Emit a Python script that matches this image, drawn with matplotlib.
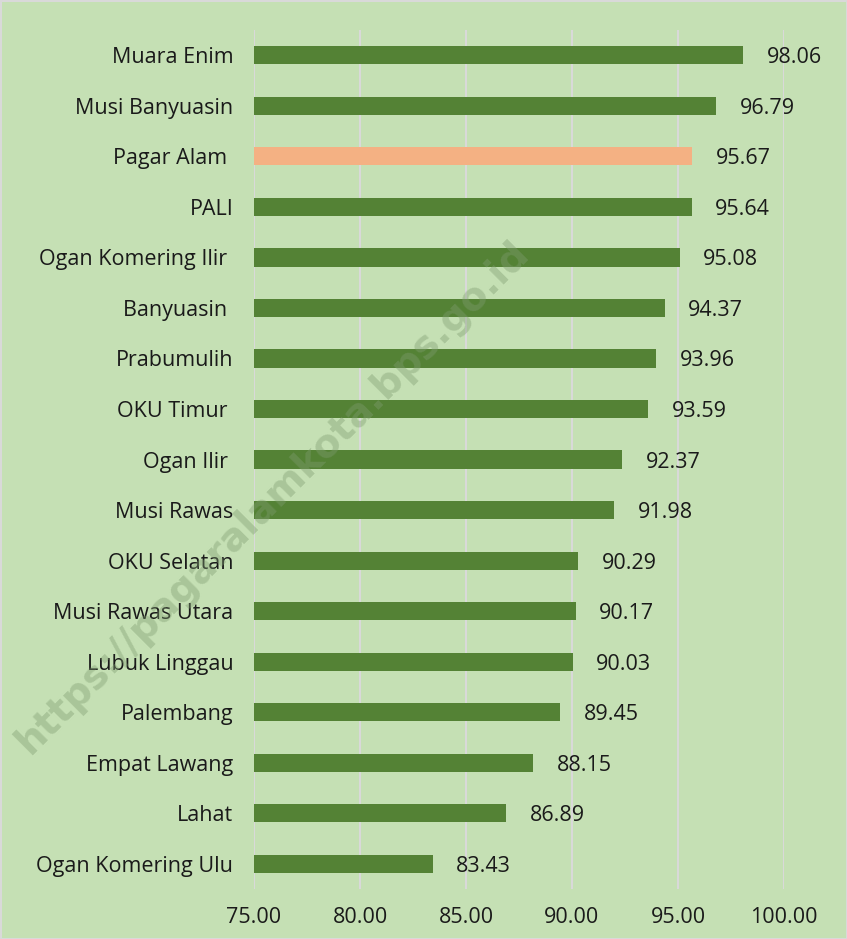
import matplotlib.pyplot as plt

regions = ["Muara Enim", "Musi Banyuasin", "Pagar Alam ", "PALI", "Ogan Komering Ilir ",
           "Banyuasin ", "Prabumulih", "OKU Timur ", "Ogan Ilir ", "Musi Rawas",
           "OKU Selatan", "Musi Rawas Utara", "Lubuk Linggau", "Palembang",
           "Empat Lawang", "Lahat", "Ogan Komering Ulu"]
values = [98.06, 96.79, 95.67, 95.64, 95.08, 94.37, 93.96, 93.59, 92.37, 91.98,
          90.29, 90.17, 90.03, 89.45, 88.15, 86.89, 83.43]
ticks = [75, 80, 85, 90, 95, 100]

bg = "#c5e0b4"
green = "#548235"
salmon = "#f4b183"

plt.rcParams["font.family"] = ["Open Sans", "DejaVu Sans"]

fig = plt.figure(figsize=(8.47, 9.39), dpi=100, facecolor=bg,
                 edgecolor="#d9d9d9", linewidth=2)
ax = fig.add_axes([0.2999, 0.0532, 0.6257, 0.9148])
ax.set_facecolor(bg)

pos = list(range(len(regions)))
colors = [salmon if r.strip() == "Pagar Alam" else green for r in regions]
base = 75
ax.barh(pos, [v - base for v in values], left=base, height=0.36, color=colors, zorder=3)

for p, v in zip(pos, values):
    ax.annotate(f"{v:.2f}", (v, p), xytext=(17, 0), textcoords="offset points",
                ha="left", va="center_baseline", fontsize=15.5, color="#1a1a1a")

ax.set_xlim(75, 100)
ax.set_ylim(len(regions) - 0.5, -0.5)
ax.set_xticks(ticks)
ax.set_xticklabels([f"{t:.2f}" for t in ticks], fontsize=15.5, color="#1a1a1a")
ax.set_yticks(pos)
ax.set_yticklabels(regions, fontsize=15.5, color="#1a1a1a")
ax.tick_params(length=0)
ax.tick_params(axis="y", pad=15)
ax.tick_params(axis="x", pad=13)
ax.grid(axis="x", color="#d9d9d9", linewidth=1.5, zorder=0)
for s in ax.spines.values():
    s.set_visible(False)

fig.text(0.322, 0.471, "https://pagaralamkota.bps.go.id", rotation=45,
         ha="center", va="center", fontsize=28, fontweight="bold",
         color="#7f9c70", alpha=0.4, family="DejaVu Sans")

fig.savefig("out.png", dpi=100, facecolor=bg, edgecolor="#d9d9d9")
